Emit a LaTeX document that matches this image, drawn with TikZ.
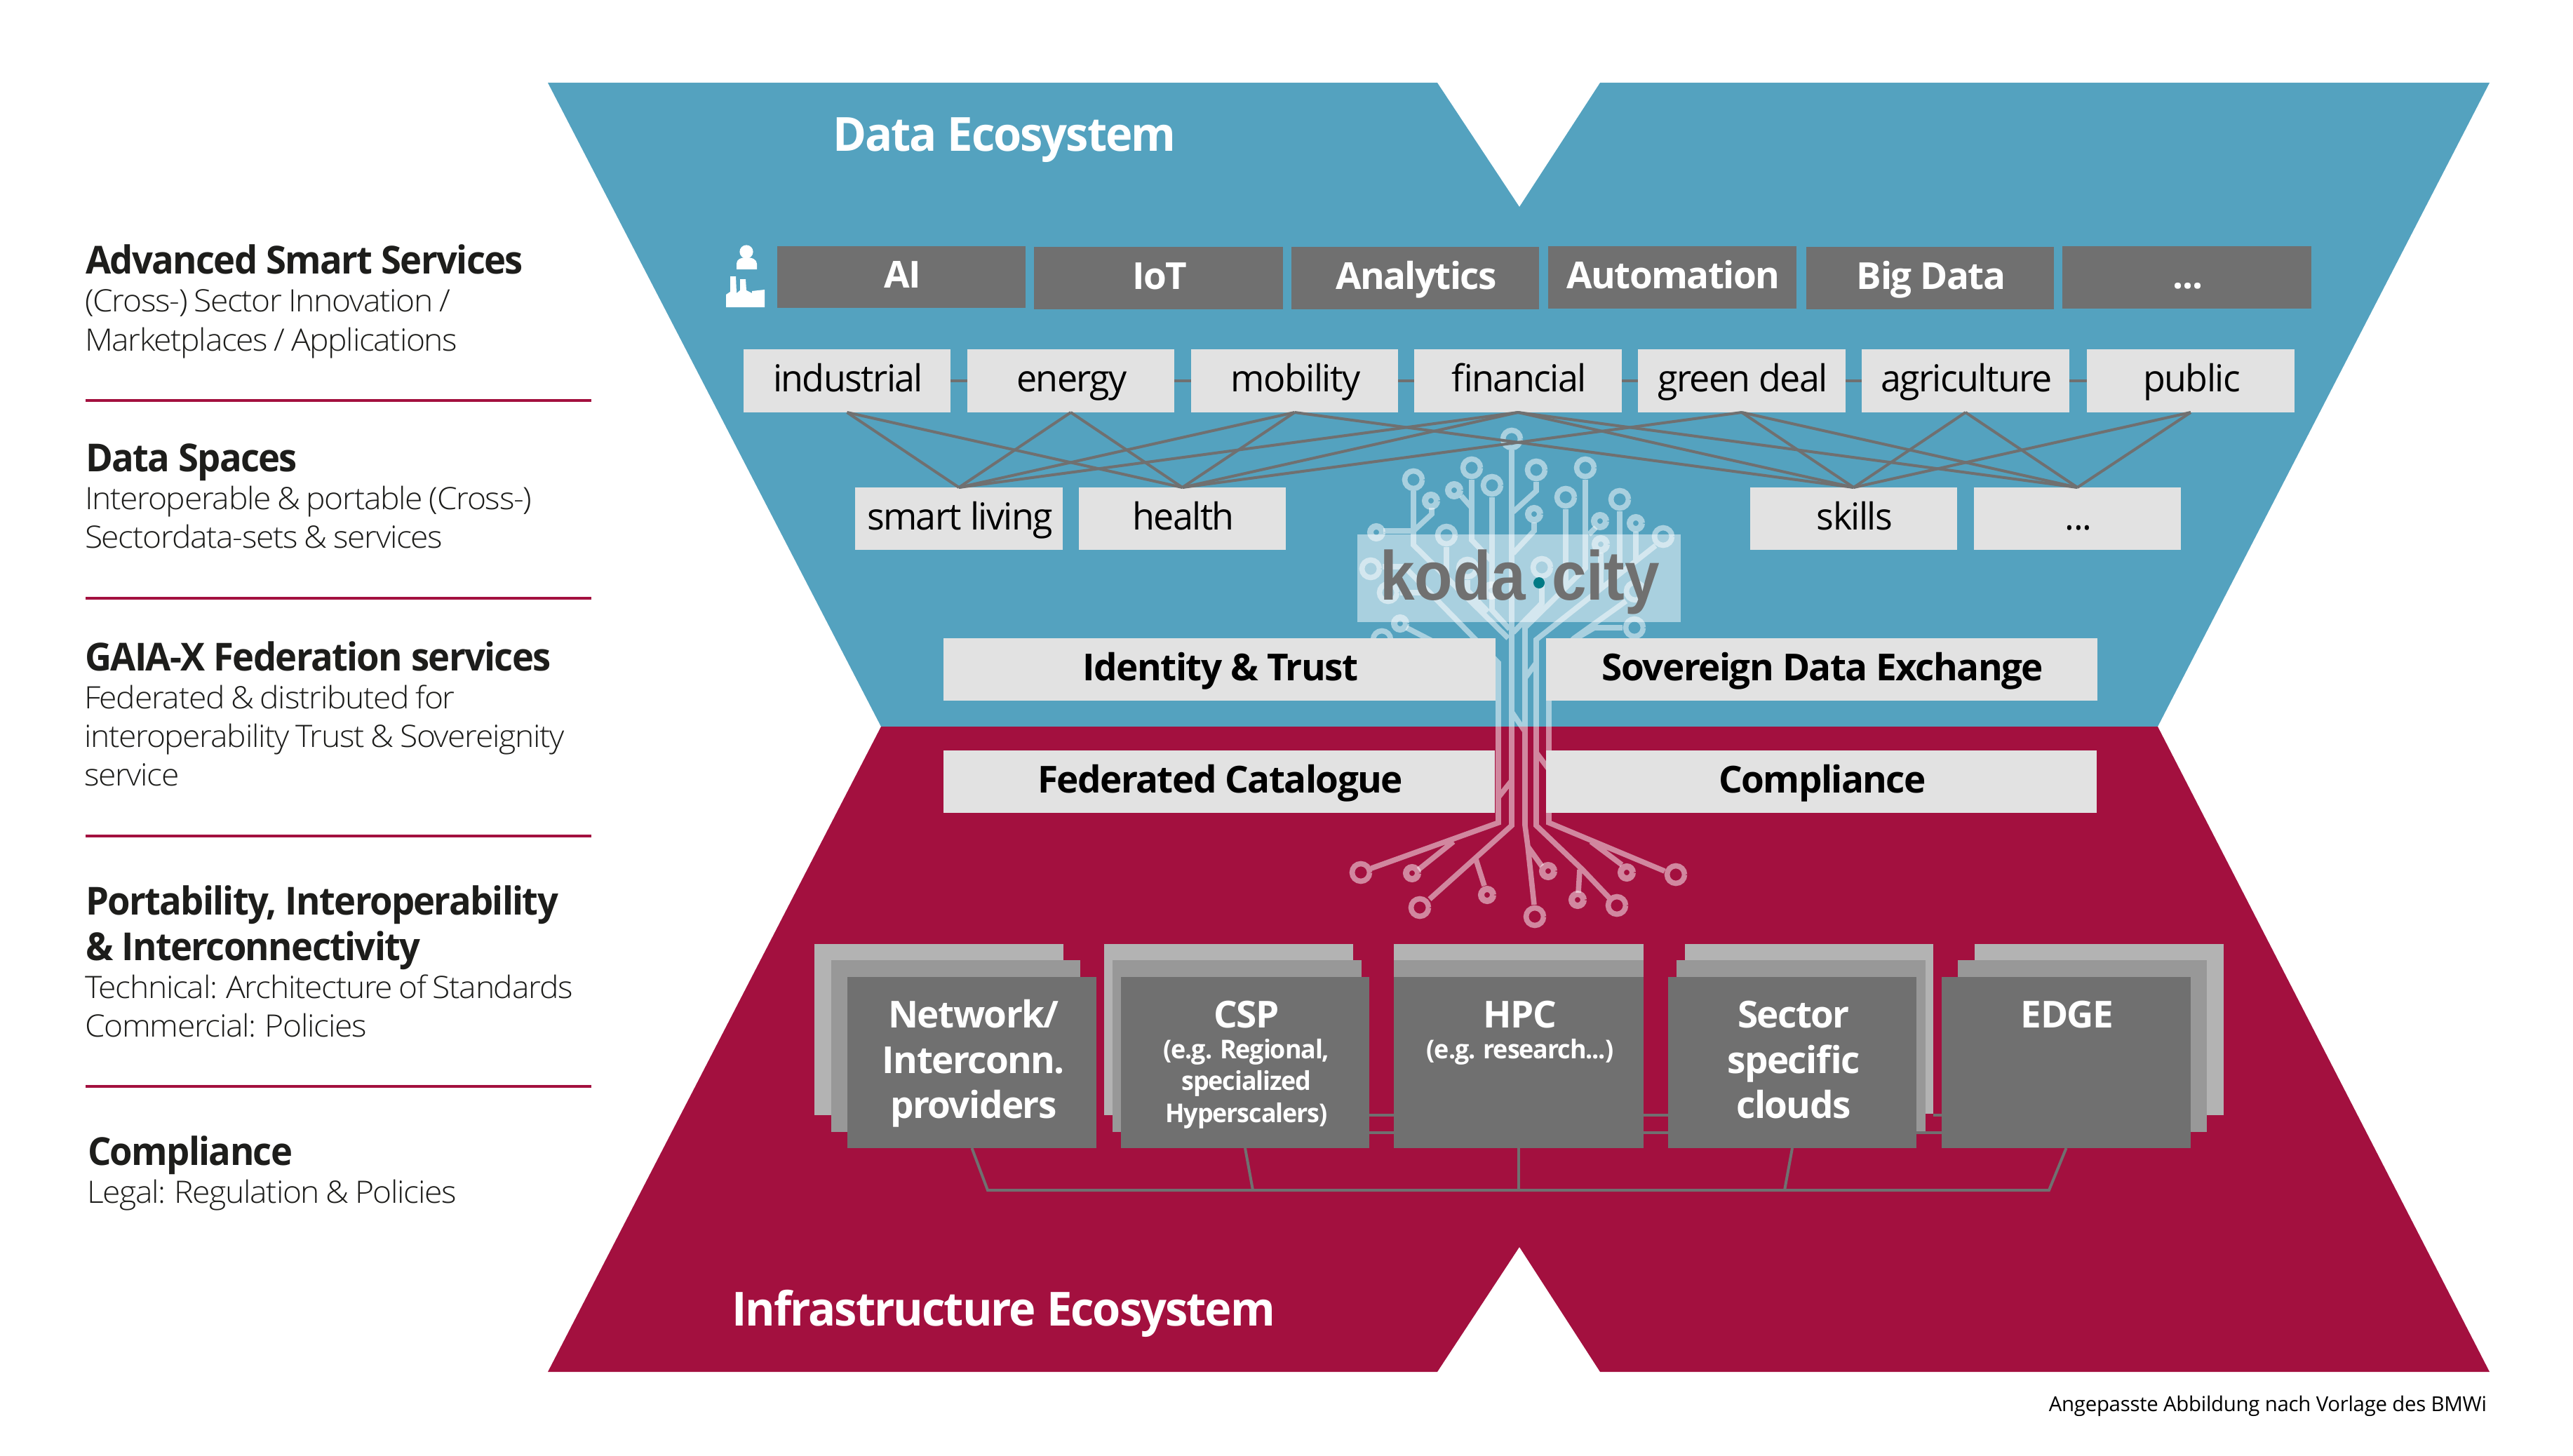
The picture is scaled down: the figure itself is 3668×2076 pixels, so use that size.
\documentclass[tikz,border=0pt]{standalone}
\usepackage{fontspec}
\usetikzlibrary{calc}
\setmainfont{Open Sans}[LetterSpace=-3]
\newfontfamily\oslight{Open Sans Light}[LetterSpace=-3,FakeStretch=1.05,WordSpace=0.8]
\newfontfamily\sectorfont{Open Sans}[LetterSpace=-3,FakeStretch=0.98]
\newfontfamily\sidebold{Open Sans}[LetterSpace=-3,FakeStretch=0.955]
\newfontfamily\ecobold{Open Sans}[LetterSpace=-3,FakeStretch=0.97]
\newfontfamily\footfont{Open Sans}[LetterSpace=-1]
\newfontfamily\kodafont{Liberation Sans}[FakeStretch=0.9]
\definecolor{bluebg}{HTML}{54A2BF}
\definecolor{redbg}{HTML}{A3103F}
\definecolor{darkbox}{HTML}{707070}
\definecolor{midbox}{HTML}{989898}
\definecolor{backbox}{HTML}{B3B3B3}
\definecolor{lightbox}{HTML}{E2E2E2}
\definecolor{inktext}{HTML}{1D1D1B}
\definecolor{tealdot}{HTML}{007A85}
\tikzset{
 plain/.style={inner sep=0pt,outer sep=0pt,rectangle},
 techbox/.style={plain,fill=darkbox,text=white,font=\fontsize{26.5}{30}\bfseries\selectfont,text height=20pt,text depth=4.5pt,execute at begin node=\kern1.5pt},
 sectorbox/.style={plain,fill=lightbox,text=black,font=\sectorfont\fontsize{26.5}{30}\selectfont,text height=20pt,text depth=4.5pt,execute at begin node=\kern1.5pt},
 fedbox/.style={plain,fill=lightbox,text=black,font=\fontsize{26.5}{30}\bfseries\selectfont,text height=20pt,text depth=4.5pt,execute at begin node=\kern1.5pt},
 frontbox/.style={plain,fill=darkbox},
 midstack/.style={plain,fill=midbox},
 backstack/.style={plain,fill=backbox},
 biglabel/.style={inner sep=0pt,outer sep=0pt,anchor=base,text=white,font=\fontsize{26.5}{30}\bfseries\selectfont},
 sublabel/.style={inner sep=0pt,outer sep=0pt,anchor=base,text=white,font=\ecobold\fontsize{18.5}{22}\bfseries\selectfont},
 ecolabel/.style={inner sep=0pt,outer sep=0pt,anchor=base west,text=white,font=\ecobold\fontsize{33.5}{38}\bfseries\selectfont},
 sidetitle/.style={inner sep=0pt,outer sep=0pt,anchor=base west,text=inktext,font=\sidebold\fontsize{27.5}{30}\bfseries\selectfont},
 sidetext/.style={inner sep=0pt,outer sep=0pt,anchor=base west,text=inktext,font=\oslight\fontsize{22}{26}\selectfont},
 footnote/.style={inner sep=0pt,outer sep=0pt,anchor=base east,text=black,font=\footfont\fontsize{14.7}{18}\selectfont},
 koda/.style={inner sep=0pt,outer sep=0pt,text=darkbox,font=\kodafont\fontsize{49.5}{55}\bfseries\selectfont},
 link/.style={draw=darkbox,line width=2pt},
 chainlink/.style={draw=darkbox,line width=2pt},
 buslink/.style={draw=darkbox,line width=2pt,line join=miter},
 siderule/.style={draw=redbg,line width=2.4pt},
 treeline/.style={draw=white,draw opacity=0.5,line width=3.8pt,line join=miter,line cap=butt},
 treesmall/.style={draw=white,draw opacity=0.5,line width=4.5pt},
}
\newcommand\bx[7]{\node[#6,minimum width={(#4-#2)*0.5pt},minimum height={(#5-#3)*0.5pt}] (#1) at ({(#2+#4)/2},{(#3+#5)/2}) {#7};}
\newcommand\tl[5]{\node[#4] (#1) at (#2,#3) {#5};}
\begin{document}
\begin{tikzpicture}[x=0.5pt,y=-0.5pt]
\useasboundingbox (0,0) rectangle (3668,2076);
\fill[white] (0,0) rectangle (3668,2076);
% ecosystem shapes
\fill[bluebg] (781,118) -- (2049,118) -- (2166,295) -- (2281,118) -- (3549,118) -- (3076,1036) -- (1256,1036) -- cycle;
\fill[redbg] (1256,1036) -- (3076,1036) -- (3549,1956) -- (2281,1956) -- (2166,1778) -- (2049,1956) -- (781,1956) -- cycle;
% tree
\draw[treeline]
 (2155,642) -- (2155,1177) -- (2038,1282)
 (2015,700) -- (2015,777) -- (2150,910)
 (2015,757) -- (2041,733) -- (2041,724)
 (2015,757) -- (1972,757)
 (2083,707) -- (2098,724)
 (2098,684) -- (2098,770) -- (2127,800)
 (2127,709) -- (2127,870) -- (2152,897)
 (2062,780) -- (2062,823)
 (2092,827) -- (2092,842) -- (2121,872)
 (2190,687) -- (2190,700) -- (2157,730)
 (2187,745) -- (2187,757) -- (2157,789)
 (2198,826) -- (2198,860) -- (2157,902)
 (2260,684) -- (2260,810) -- (2174,895) -- (2174,1177) -- (2178,1207) -- (2187,1290)
 (2232,726) -- (2232,838)
 (2265,762) -- (2275,752)
 (2282,788) -- (2282,839)
 (2309,729) -- (2309,819)
 (2332,758) -- (2332,802)
 (2360,778) -- (2190,912) -- (2190,1177) -- (2256,1240) -- (2294,1280)
 (2318,857) -- (2244,910) -- (2208,945) -- (2208,1173) -- (2373,1242)
 (2313,895) -- (2273,895) -- (2244,912)
 (1971,808) -- (2002,808) -- (2136,945) -- (2136,1173) -- (1955,1238)
 (1996,845) -- (2040,845)
 (2005,895) -- (2040,913)
 (2190,945) -- (2174,967)
 (2190,1073) -- (2208,1097)
 (2155,1113) -- (2136,1137)
 (2155,1015) -- (2174,1043)
 (2072,1200) -- (2022,1240)
 (2103,1222) -- (2116,1263)
 (2178,1207) -- (2198,1235)
 (2252,1240) -- (2250,1273)
 (2268,1200) -- (2312,1233)
 \foreach \rx/\ry in {2155/626,2015/684,2098/667,2127/692,2190/670,2260/667,2232/709,2309/712,2371/765,2062/763,1954/811,1979/845,2092/810,2198/809,2331/843,2330/895,1970/912,1940/1244,2024/1294,2188/1307,2305/1291,2389/1247}{ (\rx+12.5,\ry) arc[start angle=0,end angle=360,radius=6.25pt] };
\draw[treesmall]
 \foreach \rx/\ry in {2040/714,2073/699,2187/733,2281/743,2332/746,2282/776,1962/759,1996/889,2126/842,2013/1245,2120/1276,2207/1242,2249/1283,2319/1244}{ (\rx+8.5,\ry) arc[start angle=0,end angle=360,radius=4.25pt] };
% technology row
\bx{ai}{1108}{351}{1462}{439}{techbox}{AI}
\bx{iot}{1474}{352}{1829}{441}{techbox}{IoT}
\bx{analytics}{1841}{352}{2194}{441}{techbox}{Analytics}
\bx{automation}{2207}{351}{2561}{440}{techbox}{Automation}
\bx{bigdata}{2575}{352}{2928}{441}{techbox}{Big Data}
\bx{techmore}{2940}{351}{3295}{440}{techbox}{...}
% person and factory icon
\fill[white] (1064,359) circle[radius=4.8pt];
\fill[white] (1050,384) -- (1050,376) .. controls (1050,370) and (1056,367) .. (1064,367) .. controls (1072,367) and (1079,370) .. (1079,376) -- (1079,384) -- cycle;
\fill[white] (1035,438) -- (1035,420) -- (1041,416) -- (1041,394) -- (1049,394) -- (1050,418) -- (1055,414) -- (1055,398) -- (1063,398) -- (1064,414) -- (1072,418) -- (1072,415) -- (1090,413) -- (1090,438) -- cycle;
% sector row
\bx{industrial}{1060}{498}{1355}{588}{sectorbox}{industrial}
\bx{energy}{1379}{498}{1674}{588}{sectorbox}{energy}
\bx{mobility}{1698}{498}{1993}{588}{sectorbox}{mobility}
\bx{financial}{2016}{498}{2312}{588}{sectorbox}{financial}
\bx{greendeal}{2335}{498}{2631}{588}{sectorbox}{green deal}
\bx{agriculture}{2654}{498}{2950}{588}{sectorbox}{agriculture}
\bx{public}{2975}{498}{3271}{588}{sectorbox}{public}
\bx{smartliving}{1219}{695}{1515}{784}{sectorbox}{smart living}
\bx{health}{1538}{695}{1833}{784}{sectorbox}{health}
\bx{skills}{2495}{695}{2790}{784}{sectorbox}{skills}
\bx{sectormore}{2814}{695}{3109}{784}{sectorbox}{...}
\draw[chainlink] (industrial.east) -- (energy.west);
\draw[chainlink] (energy.east) -- (mobility.west);
\draw[chainlink] (mobility.east) -- (financial.west);
\draw[chainlink] (financial.east) -- (greendeal.west);
\draw[chainlink] (greendeal.east) -- (agriculture.west);
\draw[chainlink] (agriculture.east) -- (public.west);
\foreach \up/\down in {industrial/smartliving,energy/smartliving,mobility/smartliving,financial/smartliving,industrial/health,energy/health,mobility/health,financial/health,greendeal/health,mobility/skills,financial/skills,greendeal/skills,agriculture/skills,public/skills,financial/sectormore,greendeal/sectormore,agriculture/sectormore,public/sectormore}{
 \draw[link] (\up.south) -- (\down.north);
}
% koda city label
\fill[white,fill opacity=0.5] (1935,762) rectangle (2396,887);
\node[koda,anchor=base east] (kodaword) at (2175,855) {koda};
\fill[tealdot] (2194,831) circle[radius=4pt];
\node[koda,anchor=base west] (cityword) at (2212,855) {city};
% federation boxes
\bx{identity}{1345}{910}{2132}{999}{fedbox}{Identity \& Trust}
\bx{sovereign}{2204}{910}{2990}{999}{fedbox}{Sovereign Data Exchange}
\bx{catalogue}{1345}{1070}{2131}{1159}{fedbox}{Federated Catalogue}
\bx{compliancebox}{2204}{1070}{2989}{1159}{fedbox}{Compliance}
% infrastructure stacks
\bx{networkb}{1161}{1346}{1516}{1590}{backstack}{}
\bx{networkm}{1185}{1369}{1540}{1614}{midstack}{}
\bx{network}{1208}{1393}{1563}{1637}{frontbox}{}
\bx{cspb}{1574}{1346}{1929}{1590}{backstack}{}
\bx{cspm}{1586}{1369}{1941}{1614}{midstack}{}
\bx{csp}{1598}{1393}{1952}{1637}{frontbox}{}
\bx{hpcb}{1987}{1346}{2343}{1590}{backstack}{}
\bx{hpcm}{1987}{1369}{2343}{1614}{midstack}{}
\bx{hpc}{1987}{1393}{2343}{1637}{frontbox}{}
\bx{sectorb}{2402}{1346}{2756}{1588}{backstack}{}
\bx{sectorm}{2390}{1369}{2745}{1614}{midstack}{}
\bx{sector}{2378}{1393}{2732}{1637}{frontbox}{}
\bx{edgeb}{2815}{1346}{3170}{1590}{backstack}{}
\bx{edgem}{2791}{1369}{3146}{1614}{midstack}{}
\bx{edge}{2768}{1393}{3123}{1637}{frontbox}{}
\draw[buslink] ($(csp.east)+(0,75)$) -- ($(hpc.west)+(0,75)$);
\draw[buslink] ($(csp.east)+(0,100)$) -- ($(hpc.west)+(0,100)$);
\draw[buslink] ($(hpc.east)+(0,75)$) -- ($(sector.west)+(0,75)$);
\draw[buslink] ($(hpc.east)+(0,100)$) -- ($(sector.west)+(0,100)$);
\draw[buslink] ($(sectorb.east)+(0,123)$) -- ($(edge.west)+(0,75)$);
\draw[buslink] ($(sector.east)+(0,100)$) -- ($(edge.west)+(0,100)$);
\coordinate (busa) at (1408,1697);
\coordinate (busb) at (1786,1697);
\coordinate (busc) at (2165,1697);
\coordinate (busd) at (2544,1697);
\coordinate (buse) at (2921,1697);
\draw[buslink] (network.south) -- (busa) -- (buse) -- (edge.south);
\draw[buslink] (csp.south) -- (busb);
\draw[buslink] (hpc.south) -- (busc);
\draw[buslink] (sector.south) -- (busd);
% stack labels
\tl{neta}{1388}{1465}{biglabel}{Network/}
\tl{netb}{1388}{1530}{biglabel}{Interconn.}
\tl{netc}{1388}{1594}{biglabel}{providers}
\tl{cspa}{1777}{1465}{biglabel}{CSP}
\tl{cspc}{1777}{1509}{sublabel}{(e.g. Regional,}
\tl{cspd}{1777}{1554}{sublabel}{specialized}
\tl{cspe}{1777}{1600}{sublabel}{Hyperscalers)}
\tl{hpca}{2167}{1465}{biglabel}{HPC}
\tl{hpcc}{2167}{1509}{sublabel}{(e.g. research...)}
\tl{seca}{2557}{1465}{biglabel}{Sector}
\tl{secb}{2557}{1530}{biglabel}{specific}
\tl{secc}{2557}{1594}{biglabel}{clouds}
\tl{edgea}{2947}{1465}{biglabel}{EDGE}
% ecosystem titles
\tl{dataeco}{1187}{216}{ecolabel}{Data Ecosystem}
\tl{infraeco}{1043}{1890}{ecolabel}{Infrastructure Ecosystem}
% side panel
\tl{sa}{122}{390}{sidetitle}{Advanced Smart Services}
\tl{sb}{121}{444}{sidetext}{(Cross-) Sector Innovation /}
\tl{sc}{121}{500}{sidetext}{Marketplaces / Applications}
\tl{sd}{122}{672}{sidetitle}{Data Spaces}
\tl{se}{121}{726}{sidetext}{Interoperable \& portable (Cross-)}
\tl{sf}{121}{781}{sidetext}{Sectordata-sets \& services}
\tl{sg}{121}{956}{sidetitle}{GAIA-X Federation services}
\tl{sh}{120}{1010}{sidetext}{Federated \& distributed for}
\tl{si}{120}{1065}{sidetext}{interoperability Trust \& Sovereignity}
\tl{sj}{120}{1120}{sidetext}{service}
\tl{sk}{122}{1304}{sidetitle}{Portability, Interoperability}
\tl{sl}{122}{1369}{sidetitle}{\& Interconnectivity}
\tl{sm}{121}{1423}{sidetext}{Technical: Architecture of Standards}
\tl{sn}{121}{1478}{sidetext}{Commercial: Policies}
\tl{so}{125}{1661}{sidetitle}{Compliance}
\tl{sp}{124}{1715}{sidetext}{Legal: Regulation \& Policies}
\coordinate (ra1) at (122,571); \coordinate (ra2) at (843,571);
\coordinate (rb1) at (122,853); \coordinate (rb2) at (843,853);
\coordinate (rc1) at (122,1192); \coordinate (rc2) at (843,1192);
\coordinate (rd1) at (122,1549); \coordinate (rd2) at (843,1549);
\draw[siderule] (ra1) -- (ra2);
\draw[siderule] (rb1) -- (rb2);
\draw[siderule] (rc1) -- (rc2);
\draw[siderule] (rd1) -- (rd2);
\tl{foot}{3545}{2012}{footnote}{Angepasste Abbildung nach Vorlage des BMWi}
\end{tikzpicture}
\end{document}
